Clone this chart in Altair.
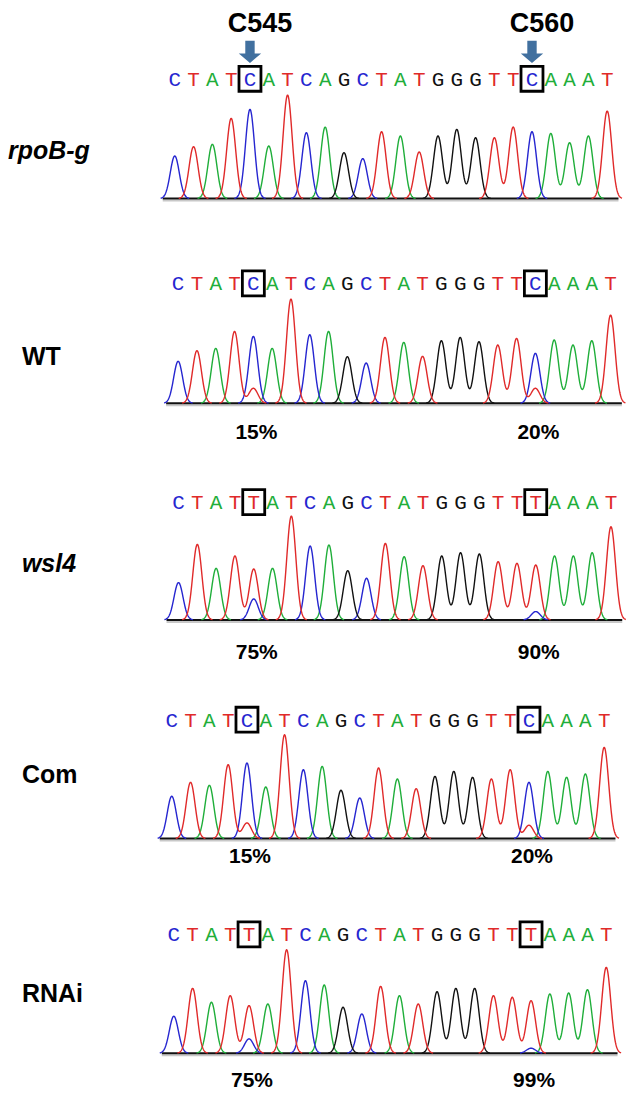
import numpy as np
import pandas as pd
import altair as alt

# ---------------- data ----------------
SEQ_REF = list("CTATCATCAGCTATGGGTTCAAAT")
SEQ_MUT = list("CTATTATCAGCTATGGGTTTAAAT")

panel_names = ["rpoB-g", "WT", "wsl4", "Com", "RNAi"]
panel_italic = [True, False, True, False, False]
panel_seq = [SEQ_REF, SEQ_REF, SEQ_MUT, SEQ_REF, SEQ_MUT]

# main peak heights (arbitrary signal units), one per base call
h_rpob = [128, 156, 163, 241, 268, 158, 311, 198, 215, 138, 120, 201,
          188, 140, 188, 208, 183, 183, 215, 201, 196, 168, 188, 263]
h_wt = [126, 158, 165, 216, 201, 165, 313, 206, 216, 140, 121, 198,
        183, 141, 188, 198, 185, 175, 195, 150, 190, 175, 188, 265]
h_wsl4 = [112, 227, 155, 192, 153, 155, 312, 222, 225, 148, 125, 230,
          190, 163, 192, 202, 198, 175, 170, 165, 192, 192, 202, 280]
h_com = [127, 169, 160, 222, 227, 155, 312, 207, 217, 145, 122, 212,
         179, 150, 187, 202, 184, 179, 207, 169, 202, 184, 194, 274]
h_rnai = [111, 195, 153, 173, 143, 148, 311, 218, 205, 138, 118, 201,
          173, 148, 185, 195, 195, 173, 168, 158, 178, 181, 191, 258]
panel_heights = [h_rpob, h_wt, h_wsl4, h_com, h_rnai]

# minor (secondary) peaks under the two sites: (base index, base, height)
sec_rpob = []
sec_wt = [(4, "T", 45), (19, "T", 45)]
sec_wsl4 = [(4, "C", 63), (19, "C", 25)]
sec_com = [(4, "T", 47), (19, "T", 40)]
sec_rnai = [(4, "C", 43), (19, "C", 15)]
panel_secondary = [sec_rpob, sec_wt, sec_wsl4, sec_com, sec_rnai]

site_index = [4, 19]
site_labels = ["C545", "C560"]
panel_pct = [None, ["15%", "20%"], ["75%", "90%"], ["15%", "20%"], ["75%", "99%"]]

# ---------------- styling / layout ----------------
BASES = ["A", "C", "G", "T"]
BASE_COLORS = ["#1FAE3A", "#2626D0", "#111111", "#E02A2A"]
cscale = alt.Scale(domain=BASES, range=BASE_COLORS)

W = 619
X0, X1 = -8.87, 24.0
x_shift = [0.0, 0.18, 0.2, -0.16, -0.05]
P_H = [210, 230, 220, 207, 216]
Y_LO = [-60, -135, -144, -108, -111]
Y_HI = [570, 555, 516, 513, 537]
LET_Y = [360, 360, 354, 357, 357]
LAB_Y = [144, 138, 168, 190, 177]
PCT_Y = [None, -90, -99, -57, -84]
LAB_X = [0, 14, 14, 14, 14]
SIG = 0.24

grid = np.round(np.arange(-0.75, 23.8, 0.02), 3)


def trace_table(seq, heights, secondary):
    peaks = [(i, b, h) for i, (b, h) in enumerate(zip(seq, heights))] + list(secondary)
    rows = []
    for base in BASES:
        sig = np.zeros_like(grid)
        for i, b, h in peaks:
            if b == base:
                sig += h * np.exp(-((grid - i) ** 2) / (2 * SIG ** 2))
        on = sig > 0.6
        seg = np.cumsum(np.diff(np.concatenate([[0], on.astype(int)])) == 1)
        for x, y, o, s in zip(grid, sig, on, seg):
            if o:
                rows.append((float(x), float(y), base, f"{base}{s}"))
    return pd.DataFrame(rows, columns=["x", "y", "base", "seg"])


ARROW = "M-0.42,-1L0.42,-1L0.42,0.15L1,0.15L0,1L-1,0.15L-0.42,0.15Z"
BOX = "M-0.88,-1L0.88,-1L0.88,1L-0.88,1Z"


def panel(k):
    xs = alt.Scale(domain=[X0 - x_shift[k], X1 - x_shift[k]], nice=False, zero=False)
    ys = alt.Scale(domain=[Y_LO[k], Y_HI[k]], nice=False, zero=False)

    tr = trace_table(panel_seq[k], panel_heights[k], panel_secondary[k])
    traces = alt.Chart(tr).mark_line(strokeWidth=1.4, strokeJoin="round").encode(
        x=alt.X("x:Q", scale=xs, axis=None),
        y=alt.Y("y:Q", scale=ys, axis=None),
        color=alt.Color("base:N", scale=cscale, legend=None),
        detail="seg:N",
    )

    one = pd.DataFrame({"a": [0]})
    shadow = alt.Chart(one).mark_rule(color="#C8C8C8", strokeWidth=2).encode(
        x=alt.XDatum(-0.64, scale=xs, axis=None), x2=alt.X2Datum(23.6),
        y=alt.YDatum(-6, scale=ys, axis=None))
    baseline = alt.Chart(one).mark_rule(color="#111111", strokeWidth=2).encode(
        x=alt.XDatum(-0.64, scale=xs, axis=None), x2=alt.X2Datum(23.6),
        y=alt.YDatum(0, scale=ys, axis=None))

    let_df = pd.DataFrame({"i": list(range(len(panel_seq[k]))), "base": panel_seq[k]})
    letters = alt.Chart(let_df).mark_text(
        font="Liberation Mono", fontSize=21, baseline="middle", dy=1).encode(
        x=alt.X("i:Q", scale=xs, axis=None),
        y=alt.YDatum(LET_Y[k], scale=ys, axis=None),
        text="base:N",
        color=alt.Color("base:N", scale=cscale, legend=None),
    )

    site_df = pd.DataFrame({"i": site_index, "lab": site_labels})
    boxes = alt.Chart(site_df).mark_point(
        shape=BOX, size=625, filled=False, color="#000000", strokeWidth=2.8, opacity=1).encode(
        x=alt.X("i:Q", scale=xs, axis=None),
        y=alt.YDatum(LET_Y[k], scale=ys, axis=None),
    )

    name = alt.Chart(pd.DataFrame({"n": [panel_names[k]]})).mark_text(
        font="Liberation Sans", fontSize=25, fontWeight="bold",
        fontStyle="italic" if panel_italic[k] else "normal",
        align="left", baseline="middle").encode(
        x=alt.value(LAB_X[k]),
        y=alt.YDatum(LAB_Y[k], scale=ys, axis=None),
        text="n:N",
    )

    layers = [shadow, baseline, traces, letters, boxes, name]

    if k == 0:
        arrows = alt.Chart(site_df).mark_point(
            shape=ARROW, size=500, filled=True, color="#41709F", opacity=1).encode(
            x=alt.X("i:Q", scale=xs, axis=None),
            y=alt.YDatum(441, scale=ys, axis=None),
        )
        titles = alt.Chart(site_df).mark_text(
            font="Liberation Sans", fontSize=27, fontWeight="bold", dx=10,
            baseline="middle").encode(
            x=alt.X("i:Q", scale=xs, axis=None),
            y=alt.YDatum(526, scale=ys, axis=None),
            text="lab:N",
        )
        layers += [arrows, titles]

    if panel_pct[k] is not None:
        pct_df = pd.DataFrame({"i": site_index, "p": panel_pct[k]})
        pct = alt.Chart(pct_df).mark_text(
            font="Liberation Sans", fontSize=21, fontWeight="bold", dx=3,
            baseline="middle").encode(
            x=alt.X("i:Q", scale=xs, axis=None),
            y=alt.YDatum(PCT_Y[k], scale=ys, axis=None),
            text="p:N",
        )
        layers.append(pct)

    return alt.layer(*layers).properties(width=W, height=P_H[k])


chart = alt.vconcat(*[panel(k) for k in range(5)], spacing=0, bounds="flush").resolve_scale(
    x="independent", y="independent", color="shared"
).properties(padding=0).configure_view(stroke=None)

chart.save("out.html", embed_options={"renderer": "svg", "actions": False})
